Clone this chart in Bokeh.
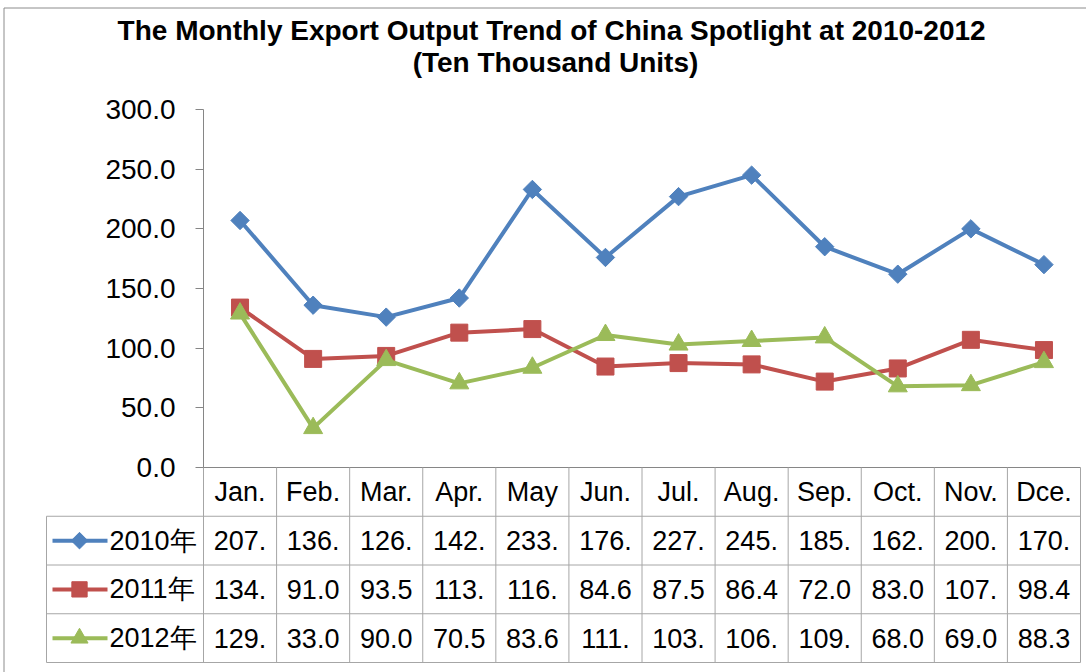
from bokeh.plotting import figure
from bokeh.models import Range1d, FixedTicker, NumeralTickFormatter
from bokeh.core.properties import value
from bokeh.embed import file_html
from bokeh.resources import INLINE

# ---------------- data ----------------
months = ["Jan.", "Feb.", "Mar.", "Apr.", "May", "Jun.", "Jul.", "Aug.", "Sep.", "Oct.", "Nov.", "Dce."]
series_names = ["2010年", "2011年", "2012年"]
v2010 = [207.0, 136.0, 126.0, 142.0, 233.0, 176.0, 227.0, 245.0, 185.0, 162.0, 200.0, 170.0]
v2011 = [134.0, 91.0, 93.5, 113.0, 116.0, 84.6, 87.5, 86.4, 72.0, 83.0, 107.0, 98.4]
v2012 = [129.0, 33.0, 90.0, 70.5, 83.6, 111.0, 103.0, 106.0, 109.0, 68.0, 69.0, 88.3]
y_ticks = [0, 50, 100, 150, 200, 250, 300]

title1 = "The Monthly  Export Output Trend of China Spotlight at 2010-2012"
title2 = "(Ten Thousand Units)"

# ---------------- styling / layout constants (pixels) ----------------
colors = ["#4F81BD", "#C0504D", "#9BBB59"]
markers = ["square", "square", "triangle"]
angles = [0.785398, 0.0, 0.0]
msizes = [13, 17, 19]
FONT = "Liberation Sans"
GRID = "#A6A6A6"
AXIS = "#868686"
BORDER = "#8C8C8C"

W, H = 1086, 672
AX_LEFT, AX_RIGHT = 203, 1080      # plot area left/right
Y0_PX, Y300_PX = 467, 109          # pixel rows for value 0 and 300
TAB_LEFT = 46
ROWH = 48.75

colw = (AX_RIGHT - AX_LEFT) / 12.0
vpx = (Y0_PX - Y300_PX) / 300.0

def X(px):
    return (px - AX_LEFT) / colw

def R(py):
    return (py - Y0_PX) / ROWH

series = [v2010, v2011, v2012]
xs = [i + 0.5 for i in range(len(months))]

p = figure(width=W, height=H, output_backend="svg", toolbar_location=None,
           x_range=Range1d(X(0), X(W)),
           y_range=Range1d(-(H - Y0_PX) / vpx, Y0_PX / vpx),
           x_axis_type=None,
           min_border_left=0, min_border_right=0, min_border_top=0, min_border_bottom=0)
p.extra_y_ranges = {"table": Range1d(R(H), R(0))}
p.outline_line_color = None
p.xgrid.visible = False
p.ygrid.visible = False
p.background_fill_color = "white"
p.border_fill_color = "white"

# value axis placed at the left edge of the plot area
ya = p.yaxis[0]
ya.fixed_location = 0
ya.bounds = (0, 300)
ya.ticker = FixedTicker(ticks=y_ticks)
ya.formatter = NumeralTickFormatter(format="0.0")
ya.axis_line_color = AXIS
ya.major_tick_line_color = AXIS
ya.minor_tick_line_color = None
ya.major_tick_out = 8
ya.major_tick_in = 0
ya.major_label_standoff = 20
ya.major_label_text_font = FONT
ya.major_label_text_font_size = "28px"
ya.major_label_text_color = "black"

# outer chart border (left and top)
p.segment([X(3.5), X(3.5)], [R(7.5), R(7.5)], [X(3.5), X(W)], [R(H), R(7.5)],
          line_color=BORDER, line_width=1, y_range_name="table")

# titles
tf_title = value(FONT)
p.text([X(555)], [R(30)], text=[title1], text_font=tf_title, text_font_size=value("28px"),
       text_font_style="bold", text_align="center", text_baseline="middle", text_color="black",
       y_range_name="table")
p.text([X(555)], [R(62)], text=[title2], text_font=tf_title, text_font_size=value("28px"),
       text_font_style="bold", text_align="center", text_baseline="middle", text_color="black",
       y_range_name="table")

# series
for vals, c, m, a, s in zip(series, colors, markers, angles, msizes):
    p.line(xs, vals, line_color=c, line_width=4)
    p.scatter(xs, vals, marker=m, angle=a, size=s, fill_color=c, line_color=c)

# ---------------- data table ----------------
# category axis line / header top
p.segment([0], [0], [12], [0], line_color=AXIS, line_width=1, y_range_name="table")
# horizontal table lines
hy = [1, 2, 3, 4]
p.segment([X(TAB_LEFT)] * 4, hy, [12] * 4, hy, line_color=GRID, line_width=1, y_range_name="table")
# vertical table lines
vx = list(range(13))
p.segment(vx, [0] * 13, vx, [4] * 13, line_color=GRID, line_width=1, y_range_name="table")
p.segment([X(TAB_LEFT)], [1], [X(TAB_LEFT)], [4], line_color=GRID, line_width=1, y_range_name="table")

tf = value(FONT)
tfs = value("27px")
p.text(xs, [0.5] * 12, text=months, text_font=tf, text_font_size=tfs,
       text_align="center", text_baseline="middle", text_color="black", y_range_name="table")

def fmt(v):
    return ("%.1f" % v)[:4]

for r, (vals, name, c, m, a, s) in enumerate(zip(series, series_names, colors, markers, angles, msizes)):
    yrow = 1.5 + r
    p.text(xs, [yrow] * 12, text=[fmt(v) for v in vals], text_font=tf, text_font_size=tfs,
           text_align="center", text_baseline="middle", text_color="black", y_range_name="table")
    p.line([X(52), X(107)], [yrow, yrow], line_color=c, line_width=4, y_range_name="table")
    p.scatter([X(79)], [yrow], marker=m, angle=a, size=s * 0.9, fill_color=c, line_color=c,
              y_range_name="table")
    p.text([X(109)], [yrow], text=[name], text_font=tf, text_font_size=tfs,
           text_align="left", text_baseline="middle", text_color="black", y_range_name="table")

open("out.html", "w").write(file_html(p, INLINE))
